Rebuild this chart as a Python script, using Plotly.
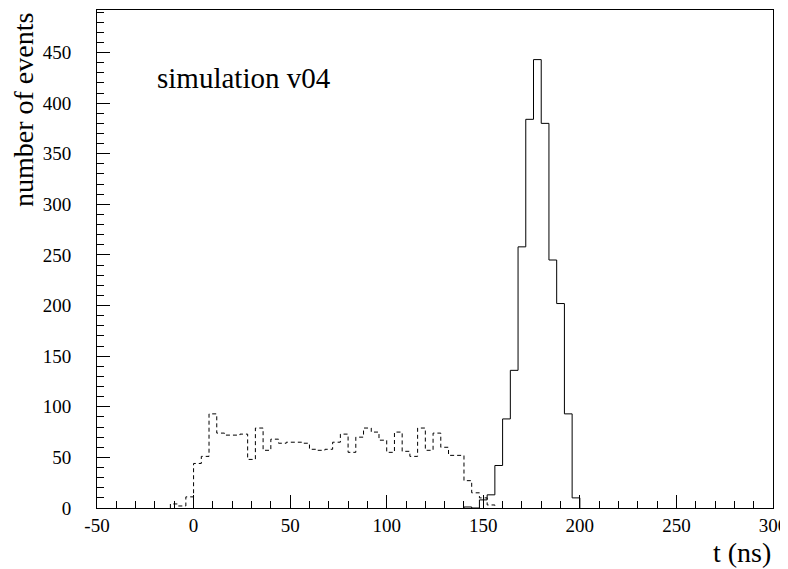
import plotly.graph_objects as go

# ---- data ----
bin_width = 4  # ns

dashed_start = -12
dashed_values = [4, 2, 11,
                 44, 51, 93, 74, 72, 72, 73, 48, 79, 57,
                 68, 64, 65, 65, 64, 58, 57, 58, 65, 73,
                 55, 70, 79, 75, 67, 55, 75, 56, 51, 79,
                 57, 74, 60, 52, 52,
                 27, 15, 10, 3]

solid_start = 140
solid_values = [1, 0, 8, 13, 42, 88, 136, 258, 384, 443, 380, 245, 202, 93, 10]

x_tickvals = [-50, 0, 50, 100, 150, 200, 250, 300]
x_ticktext = ["-50", "0", "50", "100", "150", "200", "250", "300"]
y_tickvals = [0, 50, 100, 150, 200, 250, 300, 350, 400, 450]
y_ticktext = [str(v) for v in y_tickvals]

x_range = [-50, 300]
y_range = [0, 492]

FONT = "Liberation Serif"


def step_outline(start, width, values):
    edges = [start + i * width for i in range(len(values) + 1)]
    xs = [edges[0]] + edges + [edges[-1]]
    ys = [0] + list(values) + [values[-1], 0]
    return xs, ys


fig = go.Figure()

dx, dy = step_outline(dashed_start, bin_width, dashed_values)
fig.add_trace(go.Scatter(x=dx, y=dy, mode="lines", line_shape="hv",
                         line=dict(color="black", width=1, dash="4px,3px"),
                         hoverinfo="skip", showlegend=False))

sx, sy = step_outline(solid_start, bin_width, solid_values)
fig.add_trace(go.Scatter(x=sx, y=sy, mode="lines", line_shape="hv",
                         line=dict(color="black", width=1),
                         hoverinfo="skip", showlegend=False))

# the page body has an 8px default margin, so the figure is sized to fit
fig.update_layout(
    width=780, height=561,
    margin=dict(l=89, r=12, t=1, b=61),
    paper_bgcolor="white", plot_bgcolor="white",
    font=dict(family=FONT, color="black", size=19),
    showlegend=False,
    xaxis=dict(range=x_range, tickvals=x_tickvals, ticktext=x_ticktext,
               ticks="inside", ticklen=13, tickwidth=1, tickcolor="black",
               minor=dict(dtick=10, tick0=0, ticks="inside", ticklen=7,
                          tickwidth=1, tickcolor="black"),
               showline=True, linecolor="black", linewidth=1, mirror=True,
               showgrid=False, zeroline=False, ticklabeloverflow="allow",
               tickfont=dict(family=FONT, size=19)),
    yaxis=dict(range=y_range, tickvals=y_tickvals, ticktext=y_ticktext,
               ticks="inside", ticklen=13, tickwidth=1, tickcolor="black",
               minor=dict(dtick=10, tick0=0, ticks="inside", ticklen=7,
                          tickwidth=1, tickcolor="black"),
               showline=True, linecolor="black", linewidth=1, mirror=True,
               showgrid=False, zeroline=False, ticklabelstandoff=21,
               ticklabeloverflow="allow",
               tickfont=dict(family=FONT, size=19)),
    annotations=[
        dict(text="number of events", textangle=-90, xref="paper", yref="paper",
             x=-0.108, y=0.998, xanchor="center", yanchor="top", showarrow=False,
             font=dict(family=FONT, size=28)),
        dict(text="t (ns)", xref="paper", yref="paper", x=1.0, y=-0.09,
             xanchor="right", yanchor="middle", showarrow=False,
             font=dict(family=FONT, size=28)),
        dict(text="simulation v04", xref="x", yref="y", x=-20, y=425,
             xanchor="left", yanchor="middle", showarrow=False,
             font=dict(family=FONT, size=29)),
    ],
)

fig.write_html("out.html")
